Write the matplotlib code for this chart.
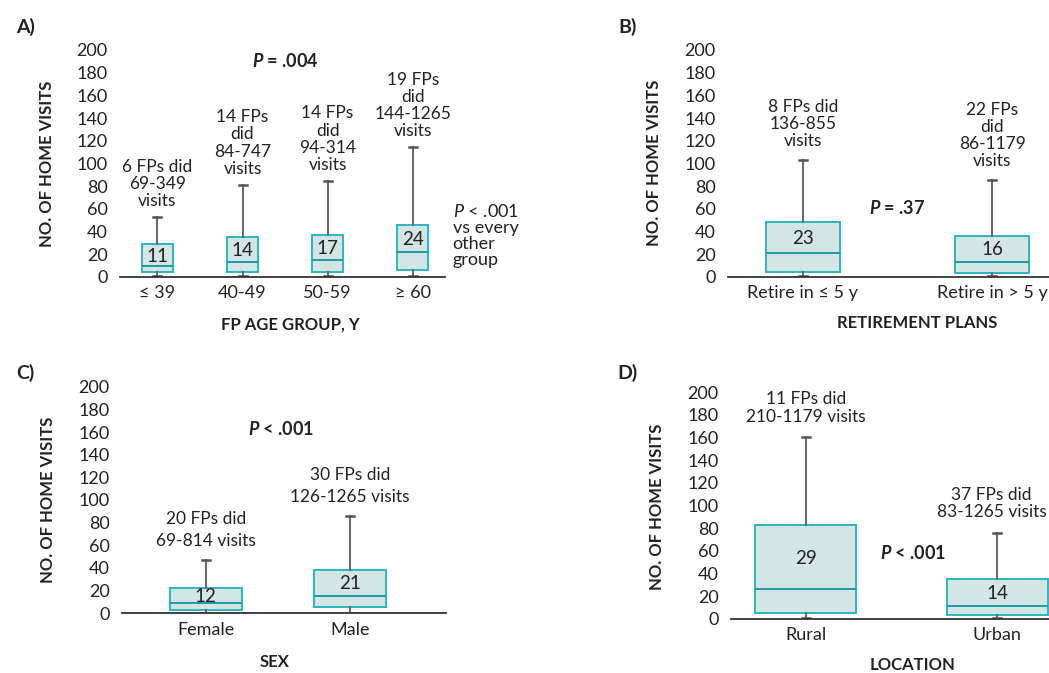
import matplotlib
matplotlib.use('Agg')
import matplotlib.pyplot as plt

plt.rcParams['font.family'] = ['Lato', 'DejaVu Sans']
plt.rcParams['mathtext.fontset'] = 'custom'
plt.rcParams['mathtext.it'] = 'Lato:italic:bold'
plt.rcParams['mathtext.sf'] = 'Lato:italic'

# A) FP age group
age_cats = ['≤ 39', '40-49', '50-59', '≥ 60']
age_q1 = [4.4, 4, 4, 6]
age_med = [9.7, 13, 14.7, 22]
age_q3 = [28.5, 34.8, 36.5, 46]
age_hi = [52.7, 81, 84.5, 114]
age_mean = [11, 14, 17, 24]
age_notes = ['6 FPs did\n69-349\nvisits', '14 FPs\ndid\n84-747\nvisits',
             '14 FPs\ndid\n94-314\nvisits', '19 FPs\ndid\n144-1265\nvisits']

# B) retirement plans
ret_cats = ['Retire in ≤ 5 y', 'Retire in > 5 y']
ret_q1 = [3.8, 3]
ret_med = [20.6, 13]
ret_q3 = [48, 36.2]
ret_hi = [103, 85.3]
ret_mean = [23, 16]
ret_notes = ['8 FPs did\n136-855\nvisits', '22 FPs\ndid\n86-1179\nvisits']

# C) sex
sex_cats = ['Female', 'Male']
sex_q1 = [2.9, 5.9]
sex_med = [9.4, 15.6]
sex_q3 = [22, 38.5]
sex_hi = [47, 86]
sex_mean = [12, 21]
sex_notes = ['20 FPs did\n69-814 visits', '30 FPs did\n126-1265 visits']

# D) location
loc_cats = ['Rural', 'Urban']
loc_q1 = [4.7, 3.3]
loc_med = [26, 11.2]
loc_q3 = [83, 34.8]
loc_hi = [160.5, 76]
loc_mean = [29, 14]
loc_notes = ['11 FPs did\n210-1179 visits', '37 FPs did\n83-1265 visits']

W, H = 1049, 673
fig = plt.figure(figsize=(W / 100, H / 100), dpi=100)

FILL = '#d3e6e3'
EDGE = '#2bb6c3'
MED = '#1e9aa8'
WHISK = '#6b6b6b'
TXT = '#222222'


def rect(l, r, t, b):
    return [l / W, 1 - b / H, (r - l) / W, (b - t) / H]


def panel(box, xlim, width, cats, q1, med, q3, hi, means, notes, off, lsp):
    ax = fig.add_axes(rect(*box))
    capw = 8 * (xlim[1] - xlim[0]) / (box[1] - box[0])  # caps ~8 px wide
    stats = []
    for i in range(len(cats)):
        stats.append(dict(q1=q1[i], med=med[i], q3=q3[i], whislo=0.3, whishi=hi[i], fliers=[]))
    ax.bxp(stats, positions=range(len(cats)), widths=width, patch_artist=True,
           showfliers=False,
           boxprops=dict(facecolor=FILL, edgecolor=EDGE, linewidth=1.4),
           medianprops=dict(color=MED, linewidth=1.4),
           whiskerprops=dict(color=WHISK, linewidth=1.5),
           capprops=dict(color='#555555', linewidth=1.8),
           capwidths=capw)
    for i in range(len(cats)):
        ax.text(i, (med[i] + q3[i]) / 2 - 1, str(means[i]), ha='center', va='center',
                fontsize=13.5, color=TXT)
        ax.annotate(notes[i], (i, hi[i]), xytext=(off[i], off[-1]), textcoords='offset points',
                    ha='center', va='bottom', fontsize=12.5, color=TXT,
                    linespacing=lsp, annotation_clip=False)
    ax.set_xlim(*xlim)
    ax.set_ylim(0, 200)
    ax.set_yticks(range(0, 201, 20))
    ax.set_xticks(range(len(cats)))
    ax.set_xticklabels(cats)
    ax.tick_params(axis='y', length=0, pad=9, labelsize=13, labelcolor=TXT)
    ax.tick_params(axis='x', length=0, pad=6, labelsize=13, labelcolor=TXT)
    for s in ['top', 'right', 'left']:
        ax.spines[s].set_visible(False)
    ax.spines['bottom'].set_color('#333333')
    ax.spines['bottom'].set_linewidth(1.3)
    ax.patch.set_alpha(0)
    return ax


def ftext(x, y, s, **kw):
    fig.text(x / W, 1 - y / H, s, color=TXT, **kw)


axA = panel((120, 445, 50, 276.7), (-0.44, 3.38), 0.365, age_cats, age_q1, age_med,
            age_q3, age_hi, age_mean, age_notes, [0, 0, 0, 0, 6], 1.08)
axB = panel((728, 1049, 50, 276.7), (-0.395, 1.30), 0.39, ret_cats, ret_q1, ret_med,
            ret_q3, ret_hi, ret_mean, ret_notes, [0, 0, 8], 1.08)
axC = panel((122, 446, 386.7, 613.3), (-0.58, 1.665), 0.5, sex_cats, sex_q1, sex_med,
            sex_q3, sex_hi, sex_mean, sex_notes, [0, 0, 8], 1.45)
axD = panel((731, 1049, 392.3, 618.7), (-0.39, 1.27), 0.53, loc_cats, loc_q1, loc_med,
            loc_q3, loc_hi, loc_mean, loc_notes, [0, -4, 9], 1.08)

# P values
axA.text(1.5, 190, r'$\mathit{P}$ = .004', ha='center', va='center', fontsize=13,
         fontweight='bold', color=TXT)
axA.text(3.47, 36, '$\\mathsf{P}$ < .001\nvs every\nother\ngroup', ha='left', va='center',
         fontsize=13, color=TXT, linespacing=1.0, clip_on=False)
axB.text(0.5, 61, r'$\mathit{P}$ = .37', ha='center', va='center', fontsize=13,
         fontweight='bold', color=TXT)
axC.text(0.52, 163, r'$\mathit{P}$ < .001', ha='center', va='center', fontsize=13,
         fontweight='bold', color=TXT)
axD.text(0.56, 58, r'$\mathit{P}$ < .001', ha='center', va='center', fontsize=13,
         fontweight='bold', color=TXT)

# panel letters
for x, y, s in [(16, 27, 'A)'), (618, 27, 'B)'), (16, 373, 'C)'), (617, 373, 'D)')]:
    ftext(x, y, s, fontsize=14, fontweight='bold', ha='left', va='center')

# axis titles
for x, y in [(47, 164), (654, 163), (48, 500), (657, 507)]:
    ftext(x, y, 'NO. OF HOME VISITS', fontsize=12, fontweight='bold', rotation=90,
          ha='center', va='center')
for x, y, s in [(290, 325, 'FP AGE GROUP, Y'), (917, 323, 'RETIREMENT PLANS'),
                (275, 662, 'SEX'), (913, 665, 'LOCATION')]:
    ftext(x, y, s, fontsize=12, fontweight='bold', ha='center', va='center')

fig.savefig('out.png', dpi=100)
